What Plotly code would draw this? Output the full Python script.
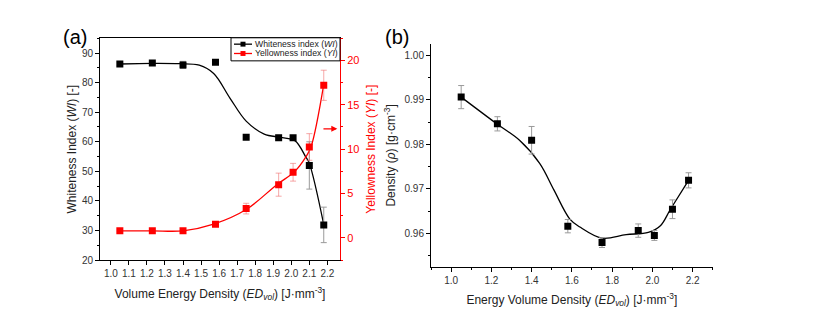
import plotly.graph_objects as go

# ---------------- data ----------------
ed = [1.05, 1.23, 1.40, 1.58, 1.75, 1.93, 2.01, 2.10, 2.18]

wi = [86.3, 86.6, 86.0, 86.9, 61.5, 61.4, 61.4, 52.0, 31.9]
wi_err = [0.6, 0.5, 1.2, 0.3, 0.3, 0.8, 0.5, 8.0, 6.0]

yi = [0.8, 0.8, 0.8, 1.55, 3.3, 6.0, 7.4, 10.25, 17.2]
yi_err = [0.1, 0.1, 0.1, 0.2, 0.6, 1.3, 1.0, 1.5, 1.7]

rho = [0.9906, 0.9846, 0.9809, 0.9616, 0.9579, 0.9606, 0.9595, 0.9654, 0.9719]
rho_err = [0.0026, 0.0016, 0.0031, 0.0015, 0.0011, 0.0015, 0.0011, 0.0021, 0.0017]

# smooth fit curves
wi_fit_x = [1.05, 1.23, 1.38, 1.49, 1.57, 1.66, 1.75, 1.85, 1.94, 2.02, 2.08, 2.10, 2.18]
wi_fit_y = [86.3, 86.5, 86.4, 85.9, 83.1, 74.8, 67.0, 62.6, 61.5, 60.4, 54.9, 52.7, 32.0]

yi_fit_x = [1.05, 1.23, 1.40, 1.57, 1.75, 1.92, 2.02, 2.08, 2.11, 2.18]
yi_fit_y = [0.8, 0.8, 0.8, 1.55, 3.2, 6.0, 7.5, 9.1, 10.3, 17.3]

rho_fit_x = [1.05, 1.23, 1.34, 1.44, 1.51, 1.59, 1.64, 1.75, 1.87, 1.98, 2.04, 2.09, 2.18]
rho_fit_y = [0.9906, 0.9845, 0.9809, 0.9757, 0.9698, 0.9632, 0.9614, 0.9589, 0.9597, 0.9602, 0.9617, 0.9654, 0.9719]

x_ticks_a = [1.0, 1.1, 1.2, 1.3, 1.4, 1.5, 1.6, 1.7, 1.8, 1.9, 2.0, 2.1, 2.2]
legend_labels = ["Whiteness index (<i>WI</i>)", "Yellowness index (<i>YI</i>)"]

# ---------------- figure ----------------
W, H = 823, 323
FONT = "Liberation Sans, Arial, sans-serif"
RED = "#ff0000"
fig = go.Figure()

def px_x(p):
    return p / W

def px_y(p):
    return 1 - p / H

# fit curves
fig.add_trace(go.Scatter(x=wi_fit_x, y=wi_fit_y, mode="lines", line=dict(color="black", width=1.3, shape="spline"),
                         xaxis="x", yaxis="y", showlegend=False, hoverinfo="skip"))
fig.add_trace(go.Scatter(x=yi_fit_x, y=yi_fit_y, mode="lines", line=dict(color=RED, width=1.3, shape="spline"),
                         xaxis="x", yaxis="y2", showlegend=False, hoverinfo="skip"))
fig.add_trace(go.Scatter(x=rho_fit_x, y=rho_fit_y, mode="lines", line=dict(color="black", width=1.3, shape="spline"),
                         xaxis="x3", yaxis="y3", showlegend=False, hoverinfo="skip"))

# markers with error bars
fig.add_trace(go.Scatter(x=ed, y=wi, mode="markers", marker=dict(symbol="square", size=7, color="black"),
                         error_y=dict(type="data", array=wi_err, color="#9a9a9a", thickness=1, width=3),
                         xaxis="x", yaxis="y", showlegend=False))
fig.add_trace(go.Scatter(x=ed, y=yi, mode="markers", marker=dict(symbol="square", size=7, color=RED),
                         error_y=dict(type="data", array=yi_err, color="rgba(240,110,110,0.6)", thickness=1, width=3),
                         xaxis="x", yaxis="y2", showlegend=False))
fig.add_trace(go.Scatter(x=ed, y=rho, mode="markers", marker=dict(symbol="square", size=7, color="black"),
                         error_y=dict(type="data", array=rho_err, color="#9a9a9a", thickness=1, width=3),
                         xaxis="x3", yaxis="y3", showlegend=False))

tickfont = dict(family=FONT, size=10, color="#333333")
titlefont = dict(family=FONT, size=12, color="#222222")

fig.update_layout(
    width=W, height=H,
    margin=dict(l=0, r=0, t=0, b=0),
    paper_bgcolor="white", plot_bgcolor="white",
    font=dict(family=FONT),
    showlegend=False,
    xaxis=dict(domain=[px_x(100), px_x(340)], range=[0.94, 2.27], tickvals=x_ticks_a,
               tickformat=".1f", showline=True, linecolor="black", linewidth=1, mirror=True,
               ticks="outside", ticklen=4, tickcolor="black", showgrid=False, zeroline=False,
               tickfont=tickfont, anchor="y",
               title=dict(text="Volume Energy Density (<i>ED<sub>vol</sub></i>) [J·mm<sup>-3</sup>]", font=titlefont, standoff=11)),
    yaxis=dict(domain=[px_y(265), px_y(39)], range=[20, 95], dtick=10, tick0=20,
               showline=True, linecolor="black", linewidth=1, ticks="outside", ticklen=4, tickcolor="black",
               minor=dict(dtick=5, ticks="outside", ticklen=2, tickcolor="black"),
               showgrid=False, zeroline=False, tickfont=tickfont, anchor="x",
               title=dict(text="Whiteness Index (<i>WI</i>) [-]", font=titlefont, standoff=2)),
    yaxis2=dict(overlaying="y", side="right", anchor="x", range=[-2.5, 22.5], dtick=5, tick0=0,
                showline=True, linecolor=RED, linewidth=1, ticks="outside", ticklen=4, tickcolor=RED,
                minor=dict(dtick=2.5, ticks="outside", ticklen=2, tickcolor=RED),
                showgrid=False, zeroline=False, tickfont=dict(family=FONT, size=11, color=RED),
                title=dict(text="Yellowness Index (<i>YI</i>) [-]", font=dict(family=FONT, size=12, color=RED), standoff=8)),
    xaxis3=dict(domain=[px_x(431), px_x(712.7)], range=[0.9, 2.3], dtick=0.2, tick0=1.0, tickformat=".1f",
                showline=True, linecolor="black", linewidth=1, ticks="outside", ticklen=4, tickcolor="black",
                minor=dict(dtick=0.1, ticks="outside", ticklen=2, tickcolor="black"),
                showgrid=False, zeroline=False, tickfont=tickfont, anchor="y3",
                title=dict(text="Energy Volume Density (<i>ED<sub>vol</sub></i>) [J·mm<sup>-3</sup>]", font=titlefont, standoff=10)),
    yaxis3=dict(domain=[px_y(271.7), px_y(45)], range=[0.9525, 1.0025], dtick=0.01, tick0=0.96, tickformat=".2f",
                showline=True, linecolor="black", linewidth=1, ticks="outside", ticklen=4, tickcolor="black",
                minor=dict(dtick=0.005, ticks="outside", ticklen=2, tickcolor="black"),
                showgrid=False, zeroline=False, tickfont=tickfont, anchor="x3",
                title=dict(text="Density (<i>ρ</i>) [g·cm<sup>-3</sup>]", font=titlefont, standoff=6)),
)

# custom compact legend (box, line samples, square markers, labels)
fig.add_shape(type="rect", xref="paper", yref="paper", x0=px_x(231), x1=px_x(340), y0=px_y(62), y1=px_y(38.5),
              line=dict(color="black", width=1), fillcolor="white", layer="above")
for i, (lab, col) in enumerate(zip(legend_labels, ["black", RED])):
    yy = 45 + i * 9.5
    fig.add_shape(type="line", xref="paper", yref="paper", x0=px_x(234), x1=px_x(252), y0=px_y(yy), y1=px_y(yy),
                  line=dict(color=col, width=1.3), layer="above")
    fig.add_shape(type="rect", xref="paper", yref="paper", x0=px_x(240.5), x1=px_x(245.5),
                  y0=px_y(yy + 2.5), y1=px_y(yy - 2.5), line=dict(color=col, width=0), fillcolor=col, layer="above")
    fig.add_annotation(xref="paper", yref="paper", x=px_x(253), y=px_y(yy), text=lab, showarrow=False,
                       xanchor="left", yanchor="middle", font=dict(family=FONT, size=8.7, color="#222222"))

fig.add_annotation(xref="paper", yref="paper", x=px_x(75), y=px_y(38), text="(a)", showarrow=False,
                   font=dict(family=FONT, size=20, color="black"), xanchor="center", yanchor="middle")
fig.add_annotation(xref="paper", yref="paper", x=px_x(397), y=px_y(38), text="(b)", showarrow=False,
                   font=dict(family=FONT, size=20, color="black"), xanchor="center", yanchor="middle")

# red arrow pointing to right axis
fig.add_annotation(xref="x", yref="y2", x=2.255, y=12.3, axref="x", ayref="y2", ax=2.17, ay=12.3,
                   text="", showarrow=True, arrowhead=2, arrowsize=1, arrowwidth=1.2, arrowcolor=RED)

fig.write_html("out.html")
